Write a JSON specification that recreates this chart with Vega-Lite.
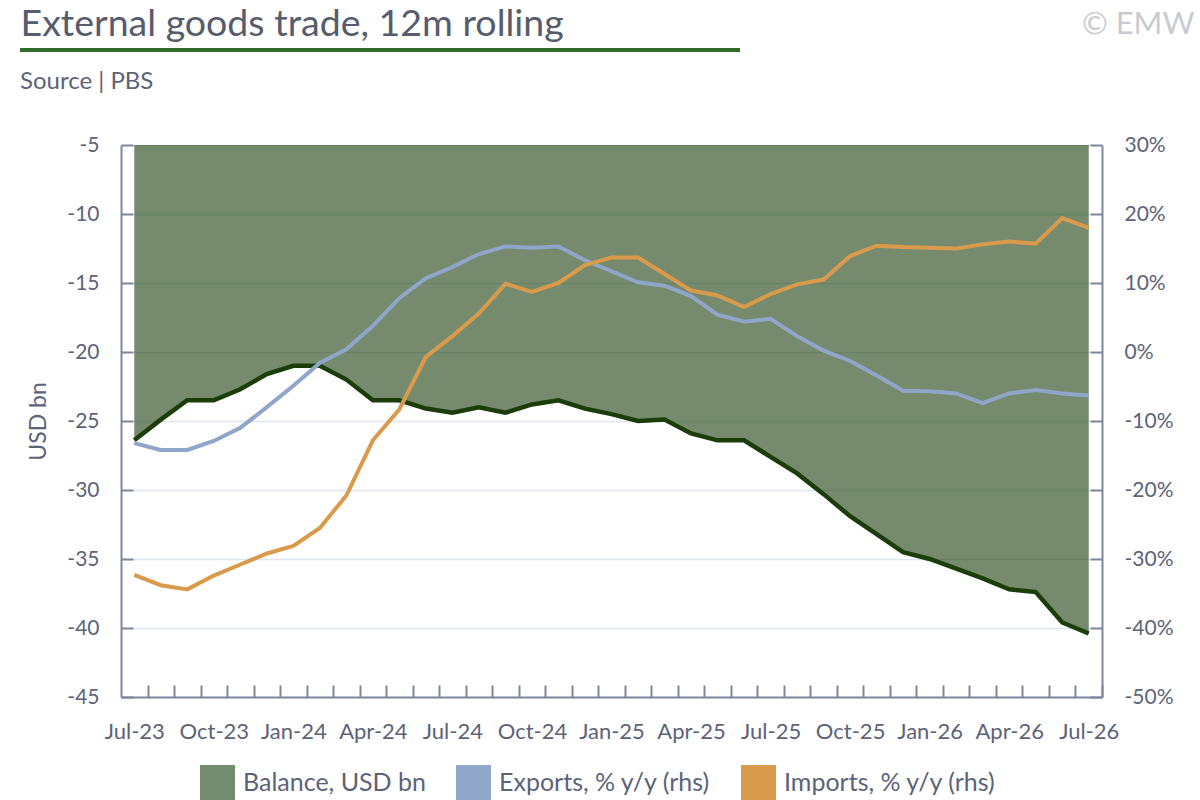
{
  "$schema": "https://vega.github.io/schema/vega-lite/v6.json",
  "autosize": "none",
  "width": 981,
  "height": 552,
  "padding": {"left": 121, "top": 145, "right": 98, "bottom": 103},
  "background": "white",
  "config": {
    "view": {"stroke": null},
    "font": "Lato",
    "axis": {"titleFontWeight": "normal", "labelFont": "Lato", "titleFont": "Lato"}
  },
  "data": {
    "values": [
      {"month": "Jul-23", "balance": -26.4, "exports": -13.2, "imports": -32.3},
      {"month": "Aug-23", "balance": -24.9, "exports": -14.2, "imports": -33.8},
      {"month": "Sep-23", "balance": -23.5, "exports": -14.2, "imports": -34.4},
      {"month": "Oct-23", "balance": -23.5, "exports": -12.9, "imports": -32.4},
      {"month": "Nov-23", "balance": -22.7, "exports": -11.0, "imports": -30.8},
      {"month": "Dec-23", "balance": -21.6, "exports": -8.0, "imports": -29.2},
      {"month": "Jan-24", "balance": -21.0, "exports": -4.9, "imports": -28.1},
      {"month": "Feb-24", "balance": -21.0, "exports": -1.6, "imports": -25.5},
      {"month": "Mar-24", "balance": -22.0, "exports": 0.4, "imports": -20.8},
      {"month": "Apr-24", "balance": -23.5, "exports": 3.8, "imports": -12.8},
      {"month": "May-24", "balance": -23.5, "exports": 7.8, "imports": -8.3},
      {"month": "Jun-24", "balance": -24.1, "exports": 10.7, "imports": -0.7},
      {"month": "Jul-24", "balance": -24.4, "exports": 12.3, "imports": 2.3},
      {"month": "Aug-24", "balance": -24.0, "exports": 14.2, "imports": 5.6},
      {"month": "Sep-24", "balance": -24.4, "exports": 15.3, "imports": 9.9},
      {"month": "Oct-24", "balance": -23.8, "exports": 15.1, "imports": 8.7},
      {"month": "Nov-24", "balance": -23.5, "exports": 15.3, "imports": 10.0},
      {"month": "Dec-24", "balance": -24.1, "exports": 13.3, "imports": 12.6},
      {"month": "Jan-25", "balance": -24.5, "exports": 11.7, "imports": 13.7},
      {"month": "Feb-25", "balance": -25.0, "exports": 10.1, "imports": 13.7},
      {"month": "Mar-25", "balance": -24.9, "exports": 9.6, "imports": 11.3},
      {"month": "Apr-25", "balance": -25.9, "exports": 8.1, "imports": 8.9},
      {"month": "May-25", "balance": -26.4, "exports": 5.4, "imports": 8.2},
      {"month": "Jun-25", "balance": -26.4, "exports": 4.4, "imports": 6.5},
      {"month": "Jul-25", "balance": -27.6, "exports": 4.8, "imports": 8.4},
      {"month": "Aug-25", "balance": -28.8, "exports": 2.3, "imports": 9.8},
      {"month": "Sep-25", "balance": -30.3, "exports": 0.2, "imports": 10.5},
      {"month": "Oct-25", "balance": -31.9, "exports": -1.3, "imports": 13.9},
      {"month": "Nov-25", "balance": -33.2, "exports": -3.4, "imports": 15.4},
      {"month": "Dec-25", "balance": -34.5, "exports": -5.6, "imports": 15.2},
      {"month": "Jan-26", "balance": -35.0, "exports": -5.7, "imports": 15.1},
      {"month": "Feb-26", "balance": -35.7, "exports": -6.0, "imports": 15.0},
      {"month": "Mar-26", "balance": -36.4, "exports": -7.4, "imports": 15.6},
      {"month": "Apr-26", "balance": -37.2, "exports": -6.0, "imports": 16.0},
      {"month": "May-26", "balance": -37.4, "exports": -5.5, "imports": 15.7},
      {"month": "Jun-26", "balance": -39.6, "exports": -6.0, "imports": 19.4},
      {"month": "Jul-26", "balance": -40.4, "exports": -6.3, "imports": 18.0}
    ]
  },
  "layer": [
    {
      "mark": {"type": "area", "color": "#1a3d0c", "opacity": 0.6},
      "encoding": {
        "x": {
          "field": "month", "type": "ordinal", "sort": null,
          "scale": {"type": "point", "padding": 0.5},
          "axis": {
            "orient": "bottom", "title": null, "grid": false,
            "tickOffset": 13.26, "labelOffset": -13.26,
            "tickSize": -12, "tickWidth": 2, "tickColor": "#7f889b",
            "domainColor": "#7f889b", "domainWidth": 2,
            "labelPadding": 36, "labelFontSize": 22, "labelColor": "#5d6377",
            "labelAngle": 0, "labelOverlap": false, "labelBaseline": "top",
            "labelExpr": "(slice(datum.value, 0, 3) == 'Jul' || slice(datum.value, 0, 3) == 'Oct' || slice(datum.value, 0, 3) == 'Jan' || slice(datum.value, 0, 3) == 'Apr') ? datum.value : ''"
          }
        },
        "y": {
          "field": "balance", "type": "quantitative",
          "scale": {"domain": [-45, -5], "nice": false, "zero": false},
          "axis": {
            "orient": "left", "values": [-45, -40, -35, -30, -25, -20, -15, -10, -5],
            "title": "USD bn", "titleFontSize": 23, "titleColor": "#5d6377", "titlePadding": 16,
            "grid": true, "gridColor": "#dce6f1", "gridWidth": 1.5,
            "tickSize": -12, "tickWidth": 2, "tickColor": "#7f889b",
            "domainColor": "#7f889b", "domainWidth": 2,
            "labelPadding": 34, "labelFontSize": 21, "labelColor": "#5d6377",
            "labelExpr": "'' + datum.value"
          }
        },
        "y2": {"datum": -5}
      }
    },
    {
      "mark": {"type": "line", "color": "#1a3d0a", "strokeWidth": 4.5},
      "encoding": {
        "x": {
          "field": "month", "type": "ordinal", "sort": null,
          "axis": {
            "orient": "top", "domain": false, "ticks": false, "labels": false, "grid": false,
            "title": "External goods trade, 12m rolling",
            "titleX": -101, "titleY": -110, "titleAlign": "left", "titleBaseline": "alphabetic",
            "titleAngle": 0, "titleFontSize": 37.5, "titleColor": "#575c6d"
          }
        },
        "y": {
          "field": "balance", "type": "quantitative",
          "scale": {"domain": [-45, -5], "nice": false, "zero": false},
          "axis": {
            "orient": "left", "offset": 101, "position": -95, "translate": 0,
            "values": [-5], "domain": false, "labels": false, "grid": false,
            "ticks": true, "tickSize": -720, "tickWidth": 4, "tickColor": "#336b2c", "tickCap": "butt",
            "title": "Source | PBS",
            "titleX": 0, "titleY": 39, "titleAlign": "left", "titleBaseline": "alphabetic",
            "titleAngle": 0, "titleFontSize": 24, "titleColor": "#5d6377"
          }
        }
      }
    },
    {
      "transform": [{"fold": ["exports", "imports"]}],
      "mark": {"type": "line", "strokeWidth": 4},
      "encoding": {
        "x": {"field": "month", "type": "ordinal", "sort": null, "axis": null},
        "y": {
          "field": "value", "type": "quantitative",
          "scale": {"domain": [-50, 30], "nice": false, "zero": false},
          "axis": {
            "orient": "right", "values": [-50, -40, -30, -20, -10, 0, 10, 20, 30],
            "grid": false,
            "tickSize": -12, "tickWidth": 2, "tickColor": "#7f889b",
            "domainColor": "#7f889b", "domainWidth": 2,
            "labelPadding": 34, "labelFontSize": 21, "labelColor": "#5d6377",
            "labelExpr": "datum.value + '%'",
            "title": "© EMW",
            "titleX": 92, "titleY": -112, "titleAlign": "right", "titleBaseline": "alphabetic",
            "titleAngle": 0, "titleFontSize": 31, "titleColor": "#c8cbd2"
          }
        },
        "color": {
          "field": "key", "type": "nominal",
          "scale": {"domain": ["balance", "exports", "imports"], "range": ["#758c6e", "#8fa5c9", "#d99a4b"]},
          "legend": {
            "orient": "none", "legendX": 79, "legendY": 620, "direction": "horizontal",
            "title": null, "symbolType": "square", "symbolSize": 1225, "symbolStrokeWidth": 0,
            "labelFontSize": 25, "labelColor": "#5d6377", "labelFont": "Lato", "labelOffset": 8,
            "labelLimit": 400, "columnPadding": 30,
            "labelExpr": "datum.value == 'balance' ? 'Balance, USD bn' : datum.value == 'exports' ? 'Exports, % y/y (rhs)' : 'Imports, % y/y (rhs)'",
            "encode": {
              "symbols": {
                "update": {
                  "fill": {"scale": "color", "field": "value"},
                  "stroke": {"value": "transparent"},
                  "opacity": {"value": 1}
                }
              }
            }
          }
        }
      }
    }
  ],
  "resolve": {
    "scale": {"y": "independent"},
    "axis": {"x": "independent"}
  }
}
